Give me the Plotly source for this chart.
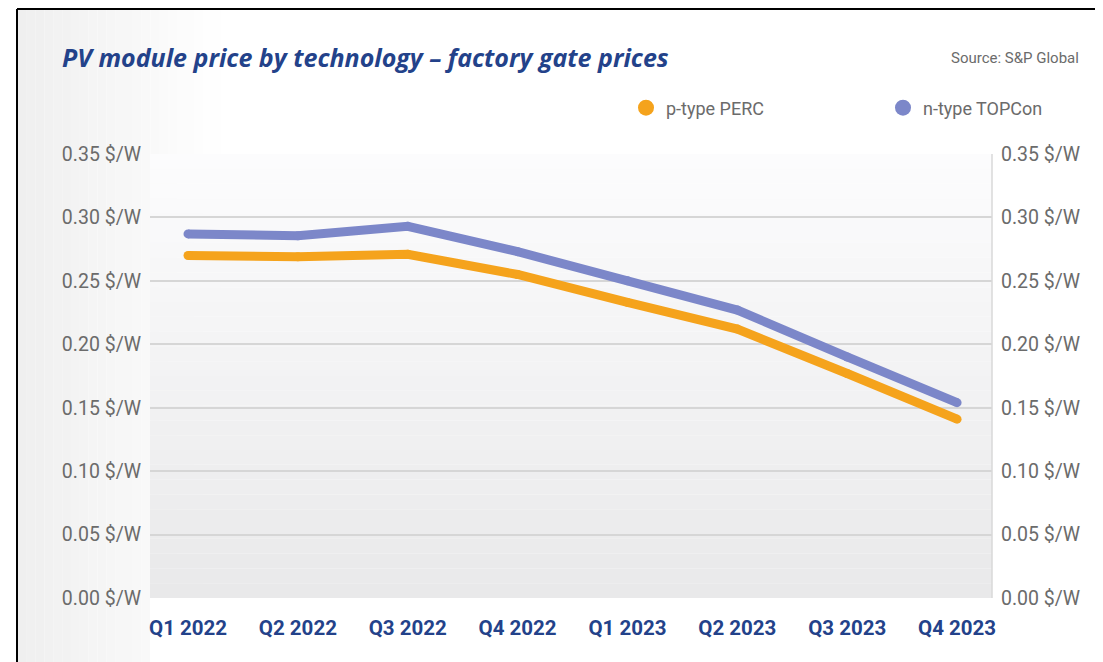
import plotly.graph_objects as go

quarters = ["Q1 2022", "Q2 2022", "Q3 2022", "Q4 2022", "Q1 2023", "Q2 2023", "Q3 2023", "Q4 2023"]
perc = [0.270, 0.269, 0.271, 0.255, 0.233, 0.212, 0.177, 0.141]
topcon = [0.287, 0.2855, 0.293, 0.273, 0.250, 0.227, 0.190, 0.154]
y_ticks = [0.00, 0.05, 0.10, 0.15, 0.20, 0.25, 0.30, 0.35]
y_labels = [f"{v:.2f} $/W" for v in y_ticks]

ORANGE = "#f5a31c"
PURPLE = "#7c87c9"
NAVY = "#23428a"
GRAY = "#6b6b6b"
COND = "Roboto, Liberation Sans Narrow, sans-serif"

OFF = 8  # page body margin
W, H = 1103 - OFF, 662 - OFF
# plot area in screen coords: x 150..992, y 154..598
L = 150 - OFF
R = W - (992 - OFF)
T = 154 - OFF
B = H - (598 - OFF)
pw, ph = W - L - R, H - T - B


def px_x(sx):
    return (sx - OFF - L) / pw


def px_y(sy):
    return (H - B - (sy - OFF)) / ph


fig = go.Figure()

for name, vals, col in [("n-type TOPCon", topcon, PURPLE), ("p-type PERC", perc, ORANGE)]:
    fig.add_trace(go.Scatter(
        x=quarters, y=vals, mode="lines+markers", name=name,
        line=dict(color=col, width=9), marker=dict(color=col, size=9),
        showlegend=False, hoverinfo="skip",
    ))

for name, col in [("p-type PERC", ORANGE), ("n-type TOPCon", PURPLE)]:
    fig.add_trace(go.Scatter(
        x=[None], y=[None], mode="markers", name=name,
        marker=dict(color=col, size=17), showlegend=True,
    ))

# invisible trace to activate right axis
fig.add_trace(go.Scatter(x=quarters, y=perc, yaxis="y2", mode="lines",
                         line=dict(width=0, color="rgba(0,0,0,0)"),
                         showlegend=False, hoverinfo="skip"))

shapes = []
# left background: horizontal gradient, full height
m = 24
x_start, x_end = 18, 230
for i in range(m):
    t = i / (m - 1)
    c = int(round(239 + t * (255 - 239)))
    shapes.append(dict(type="rect", xref="paper", yref="paper", layer="below",
                       x0=px_x(x_start + i * (x_end - x_start) / m),
                       x1=px_x(x_start + (i + 1) * (x_end - x_start) / m),
                       y0=px_y(662), y1=px_y(OFF + 1),
                       fillcolor=f"rgb({c},{c},{c})", line=dict(width=0)))
# white below the plot area (x labels strip)
shapes.append(dict(type="rect", xref="paper", yref="paper", layer="below",
                   x0=0, x1=1, y0=px_y(662), y1=0, fillcolor="white", line=dict(width=0)))
# gradient background in plot area
n = 30
for i in range(n):
    t = i / (n - 1)
    c = int(round(252 - t * (252 - 233)))
    shapes.append(dict(type="rect", xref="paper", yref="paper", layer="below",
                       x0=0, x1=1, y0=1 - (i + 1) / n, y1=1 - i / n,
                       fillcolor=f"rgb({c},{c},{c + 1})", line=dict(width=0)))
# black frame
frame = dict(color="black", width=2)
top_y = px_y(OFF + 1)
shapes.append(dict(type="line", xref="paper", yref="paper", x0=px_x(17), x1=px_x(17), y0=px_y(662), y1=top_y, line=frame))
shapes.append(dict(type="line", xref="paper", yref="paper", x0=px_x(17), x1=px_x(1101), y0=top_y, y1=top_y, line=frame))
shapes.append(dict(type="line", xref="paper", yref="paper", x0=px_x(1101), x1=px_x(1101), y0=px_y(662), y1=top_y, line=frame))
# right border of plot area
shapes.append(dict(type="line", xref="paper", yref="paper", x0=1, x1=1, y0=0, y1=1,
                   line=dict(color="#d8d8d8", width=1.5)))

annotations = [
    dict(text="<b><i>PV module price by technology – factory gate prices</i></b>",
         xref="paper", yref="paper", x=px_x(60), y=px_y(57), xanchor="left", yanchor="middle",
         showarrow=False, font=dict(family="Open Sans, sans-serif", size=25, color=NAVY)),
    dict(text="Source: S&P Global", xref="paper", yref="paper", x=px_x(1081), y=px_y(58),
         xanchor="right", yanchor="middle", showarrow=False,
         font=dict(family=COND, size=15, color=GRAY)),
]

fig.update_layout(
    width=W, height=H,
    margin=dict(l=L, r=R, t=T, b=B, pad=0, autoexpand=False),
    paper_bgcolor="white", plot_bgcolor="rgba(0,0,0,0)",
    shapes=shapes, annotations=annotations,
    showlegend=True,
    legend=dict(orientation="h", x=px_x(626), y=px_y(108), xanchor="left", yanchor="middle",
                font=dict(family=COND, size=18, color=GRAY),
                entrywidth=212, entrywidthmode="pixels", bgcolor="rgba(0,0,0,0)",
                itemsizing="trace"),
    xaxis=dict(type="category", range=[-0.346, 7.318], showgrid=False, zeroline=False,
               showline=False, ticks="", ticklabelstandoff=15, automargin=False,
               tickfont=dict(family=COND, size=20.5, color=NAVY, weight="bold")),
    yaxis=dict(range=[0, 0.35], tickvals=y_ticks, ticktext=y_labels, showgrid=True,
               gridcolor="#d6d6d6", gridwidth=1.5, zeroline=False, showline=False, ticks="",
               ticklabelstandoff=8, automargin=False, tickfont=dict(family=COND, size=19.5, color=GRAY)),
    yaxis2=dict(range=[0, 0.35], tickvals=y_ticks, ticktext=y_labels, overlaying="y", side="right",
                showgrid=False, zeroline=False, showline=False, ticks="", ticklabelstandoff=8,
                automargin=False, tickfont=dict(family=COND, size=19.5, color=GRAY)),
)

fig.write_html("out.html")
